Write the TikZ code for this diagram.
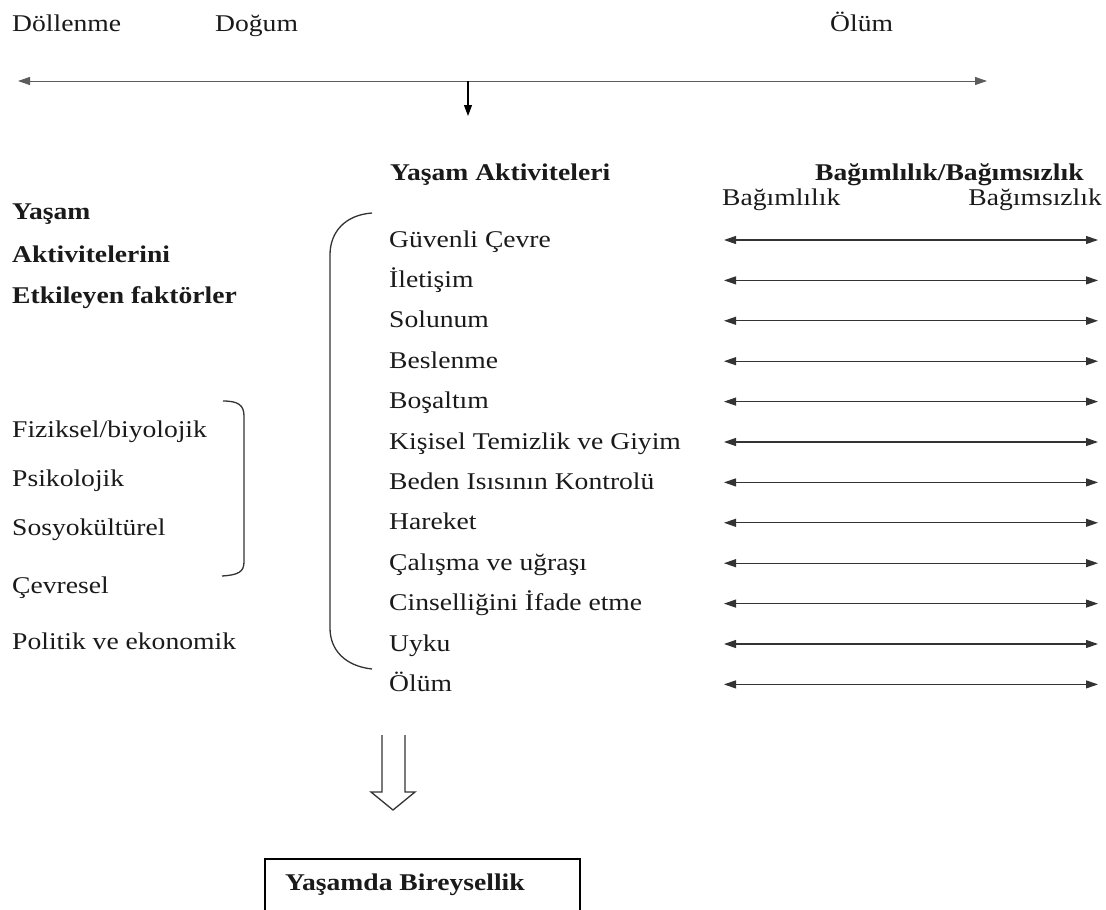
\documentclass[tikz,border=0pt]{standalone}
\usepackage{fontspec}
\setmainfont{Liberation Serif}[FakeStretch=1.15]
\usetikzlibrary{arrows.meta}
\definecolor{ink}{HTML}{1A1A1A}
\definecolor{linegray}{HTML}{333333}
\tikzset{
  lbl/.style={anchor=base west, inner sep=0pt, text=ink, font=\fontsize{24}{28}\selectfont},
  blbl/.style={lbl, font=\bfseries\fontsize{24}{28}\selectfont},
  tip/.style={-{Triangle[length=11pt,width=8pt]}},
  dblarrow/.style={{Triangle[length=12pt,width=8pt]}-{Triangle[length=12pt,width=8pt]}, draw=linegray, line width=1.1pt},
  bracket/.style={draw=linegray, line width=1.3pt},
}
\begin{document}
\begin{tikzpicture}[x=1pt,y=-1pt]
\useasboundingbox (0,0) rectangle (1106,910);
\clip (0,0) rectangle (1106,910);
\fill[white] (0,0) rectangle (1106,910);

% timeline
\node[lbl] (dollenme) at (12,31) {Döllenme};
\node[lbl] (dogum) at (215,31) {Doğum};
\node[lbl] (olumtop) at (830,31) {Ölüm};
\coordinate (tl) at (18,81);
\coordinate (tr) at (987,81);
\coordinate (dtop) at (468,81);
\coordinate (dbot) at (468,116);
\draw[dblarrow, draw=linegray!80, line width=1pt] (tl) -- (tr);
\draw[tip, draw=black, line width=1.1pt] (dtop) -- (dbot);

% headers
\node[blbl] (yakt) at (390,180) {Yaşam Aktiviteleri};
\node[blbl] (bagbag) at (815,180) {Bağımlılık/Bağımsızlık};
\node[lbl] (bagimli) at (722,205) {Bağımlılık};
\node[lbl, anchor=base east] (bagimsiz) at (1102,205) {Bağımsızlık};

% left factors
\node[blbl] (f1) at (12,219) {Yaşam};
\node[blbl] (f2) at (12,262) {Aktivitelerini};
\node[blbl] (f3) at (12,303) {Etkileyen faktörler};
\node[lbl] (l1) at (12,437) {Fiziksel/biyolojik};
\node[lbl] (l2) at (12,486) {Psikolojik};
\node[lbl] (l3) at (12,535) {Sosyokültürel};
\node[lbl] (l4) at (12,593) {Çevresel};
\node[lbl] (l5) at (12,649) {Politik ve ekonomik};

% small brace
\draw[bracket] (223,401) .. controls (238,401) and (244,405) .. (244,416)
  -- (244,562) .. controls (244,572) and (238,575) .. (222,576);

% big bracket
\draw[bracket] (372,213) .. controls (345,215) and (330,232) .. (330,255)
  -- (330,628) .. controls (330,650) and (345,666) .. (372,669);

% activities and arrows
\foreach \t [count=\i from 0] in {Güvenli Çevre, İletişim, Solunum, Beslenme, Boşaltım, Kişisel Temizlik ve Giyim, Beden Isısının Kontrolü, Hareket, Çalışma ve uğraşı, Cinselliğini İfade etme, Uyku, Ölüm}{
  \pgfmathsetmacro{\yy}{240+40.4*\i}
  \node[lbl] (a\i) at (389,\yy+7) {\t};
  \coordinate (dl\i) at (724,\yy);
  \coordinate (dr\i) at (1098,\yy);
  \draw[dblarrow] (dl\i) -- (dr\i);
}

% hollow arrow
\draw[line width=1.3pt, draw=linegray, line join=miter]
  (382,735) -- (382,792) -- (371,792) -- (393,810) -- (415,792) -- (405,792) -- (405,735);

% bottom box
\draw[line width=1.3pt, draw=black] (265,920) -- (265,859) -- (580,859) -- (580,920);
\node[blbl] (birey) at (285,890) {Yaşamda Bireysellik};
\end{tikzpicture}
\end{document}
